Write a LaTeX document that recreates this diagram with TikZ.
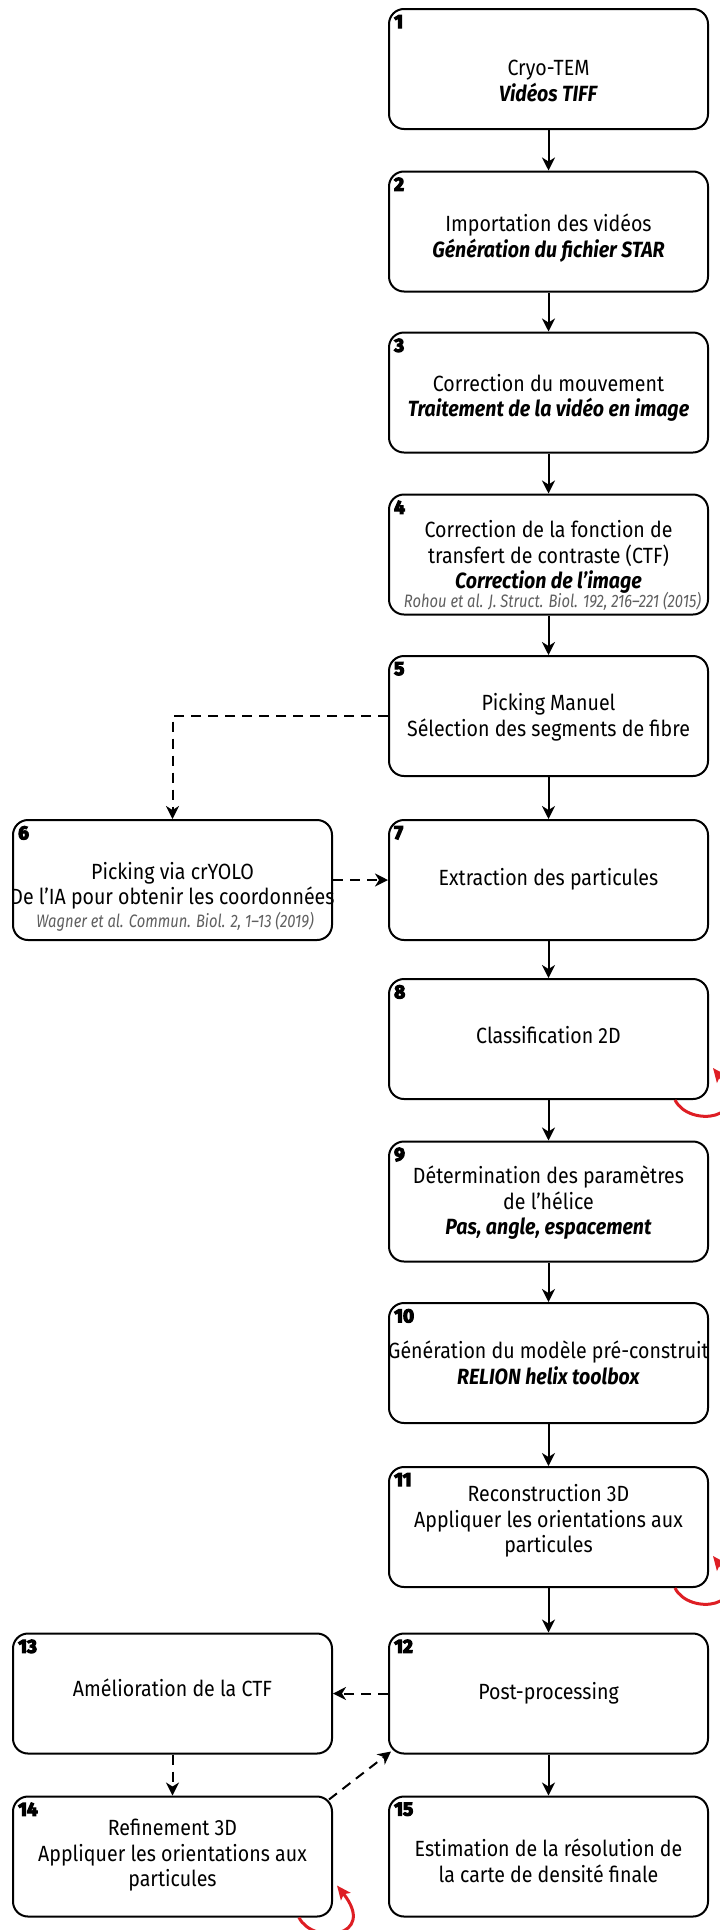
\documentclass[tikz,border=0pt]{standalone}
\usepackage{fontspec}
\setmainfont{Fira Sans}[FakeStretch=0.89]
\newfontfamily\citefont{Fira Sans}[FakeStretch=0.82]
\newfontfamily\numfont{Fira Sans}[FakeBold=6]
\usetikzlibrary{arrows.meta,calc}
\definecolor{loopred}{RGB}{222,30,36}
\definecolor{citegray}{RGB}{95,95,95}
\newcommand\bitx[1]{\textbf{\textit{#1}}}
\tikzset{
 box/.style={draw, line width=2pt, rounded corners=15pt, minimum width=319pt, minimum height=120pt, inner sep=0pt},
 txt/.style={align=center, font=\fontsize{22}{25.5}\selectfont, inner sep=0pt},
 num/.style={anchor=north west, font=\fontsize{19}{19}\selectfont\numfont\bfseries, inner sep=0pt},
 cite/.style={anchor=base, font=\fontsize{18}{18}\selectfont\citefont\itshape, text=citegray, inner sep=0pt},
 flow/.style={line width=2pt, -{Stealth[length=13pt,width=13pt,inset=4pt]}},
 dflow/.style={flow, dash pattern=on 10pt off 7pt},
 loopar/.style={line width=3pt, draw=loopred, -{Stealth[length=14pt,width=12pt,inset=3pt]}},
}
\begin{document}
\begin{tikzpicture}[x=1pt,y=-1pt]
\useasboundingbox (0,0) rectangle (720,1930);
\fill[white] (0,0) rectangle (720,1930);
% boxes
\node[box] (b1) at (548.5,69) {};
\node[box] (b2) at (548.5,231.5) {};
\node[box] (b3) at (548.5,392.5) {};
\node[box] (b4) at (548.5,554.5) {};
\node[box] (b5) at (548.5,716) {};
\node[box] (b6) at (172.5,880) {};
\node[box] (b7) at (548.5,880) {};
\node[box] (b8) at (548.5,1039) {};
\node[box] (b9) at (548.5,1201.5) {};
\node[box] (b10) at (548.5,1363) {};
\node[box] (b11) at (548.5,1527) {};
\node[box] (b12) at (548.5,1693.5) {};
\node[box] (b13) at (172.5,1693.5) {};
\node[box] (b14) at (172.5,1856.5) {};
\node[box] (b15) at (548.5,1856.5) {};
% numbers
\foreach \i in {1,...,15}{
  \node[num] (n\i) at ($(b\i.north west)+(6,7)$) {\i};
}
% texts
\node[txt] (t1) at (548.5,81) {Cryo-TEM\\\bitx{Vidéos TIFF}};
\node[txt] (t2) at (548.5,238) {Importation des vidéos\\\bitx{Génération du fichier STAR}};
\node[txt] (t3) at (548.5,398) {Correction du mouvement\\\bitx{Traitement de la vidéo en image}};
\node[txt] (t4) at (548.5,557) {Correction de la fonction de\\transfert de contraste (CTF)\\\bitx{Correction de l’image}};
\node[cite] (c4) at (552.5,607) {Rohou et al. J. Struct. Biol. 192, 216–221 (2015)};
\node[txt] (t5) at (548.5,717.5) {Picking Manuel\\Sélection des segments de fibre};
\node[txt] (t6) at (172.5,886) {Picking via crYOLO\\De l’IA pour obtenir les coordonnées};
\node[cite] (c6) at (175,927) {Wagner et al. Commun. Biol. 2, 1–13 (2019)};
\node[txt] (t7) at (548.5,879.5) {Extraction des particules};
\node[txt] (t8) at (548.5,1035) {Classification 2D};
\node[txt] (t9) at (548.5,1203) {Détermination des paramètres\\de l’hélice\\\bitx{Pas, angle, espacement}};
\node[txt] (t10) at (548.5,1363) {Génération du modèle pré-construit\\\bitx{RELION helix toolbox}};
\node[txt] (t11) at (548.5,1521) {Reconstruction 3D\\Appliquer les orientations aux\\particules};
\node[txt] (t12) at (548.5,1693) {Post-processing};
\node[txt] (t13) at (172.5,1688) {Amélioration de la CTF};
\node[txt] (t14) at (172.5,1855.5) {Refinement 3D\\Appliquer les orientations aux\\particules};
\node[txt] (t15) at (548.5,1861) {Estimation de la résolution de\\la carte de densité finale};
% solid connectors
\draw[flow] (b1.south) -- (b2.north);
\draw[flow] (b2.south) -- (b3.north);
\draw[flow] (b3.south) -- (b4.north);
\draw[flow] (b4.south) -- (b5.north);
\draw[flow] (b5.south) -- (b7.north);
\draw[flow] (b7.south) -- (b8.north);
\draw[flow] (b8.south) -- (b9.north);
\draw[flow] (b9.south) -- (b10.north);
\draw[flow] (b10.south) -- (b11.north);
\draw[flow] (b11.south) -- (b12.north);
\draw[flow] (b12.south) -- (b15.north);
% dashed connectors
\draw[dflow] (b5.west) -| (b6.north);
\draw[dflow] (b6.east) -- (b7.west);
\draw[dflow] (b12.west) -- (b13.east);
\draw[dflow] (b13.south) -- (b14.north);
\draw[dflow] ($(b14.north east)+(-4,4)$) -- ($(b12.south west)+(3,-3)$);
% red loops
\foreach \b in {b8,b11,b14}{
  \draw[loopar] ($(\b.south east)+(-34,0)$) .. controls ($(\b.south east)+(-20,28)$) and ($(\b.south east)+(45,20)$) .. ($(\b.south east)+(4,-32)$);
}
\end{tikzpicture}
\end{document}
